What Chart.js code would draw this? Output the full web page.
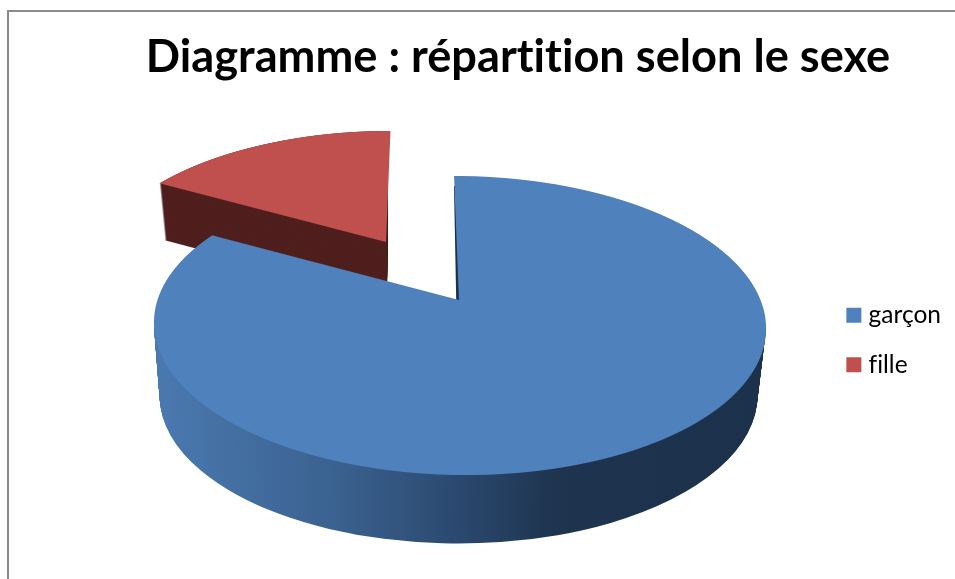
<!DOCTYPE html>
<html><head><meta charset="utf-8">
<script src="https://cdn.jsdelivr.net/npm/chart.js@4/dist/chart.umd.min.js"></script>
<style>
html,body{margin:0;padding:0;background:#fff;overflow:hidden}
#wrap{position:relative;width:955px;height:579px}
#frame{position:absolute;left:7px;top:10px;right:0;bottom:0;border-top:2px solid #8a8a8a;border-left:2px solid #8a8a8a;box-sizing:border-box}
canvas{position:absolute;left:0;top:0}
</style></head>
<body><div id="wrap"><div id="frame"></div><canvas id="c" width="955" height="579"></canvas></div>
<script>
const titleText = 'Diagramme : répartition selon le sexe';
const categories = ['garçon', 'fille'];
const values = [83, 17];
const colors = ['#4f81bd', '#c0504d'];

function view(arc, color) {
  const v = Object.create(arc);
  v.options = {backgroundColor: color, borderColor: 'transparent', borderWidth: 0, offset: 0, spacing: 0,
    borderRadius: 0, borderAlign: 'center', circular: true, borderJoinStyle: 'round', borderDash: [], borderDashOffset: 0};
  return v;
}
// perspective surface: each pixel row gets its own affine map of the library's arc
function surface(ctx, arc, color, h, lo, hi, xMin, xMax) {
  const R = arc.outerRadius, v = view(arc, color);
  for (let py = lo; py <= hi; py++) {
    const dy = py + .5 - h.ay;
    const y = dy / (h.A - h.k * dy), den = 1 + h.k * y;
    if (Math.abs(y) > 1.02) continue;
    const s = h.B / den / R, vs = h.A / (den * den) / R;
    ctx.save();
    ctx.beginPath();
    ctx.rect(xMin, py, xMax - xMin, 1);
    ctx.clip();
    ctx.setTransform(s, 0, 0, vs, h.ax + h.shear * dy - s * arc.x, py + .5 - vs * (arc.y + y * R));
    v.draw(ctx);
    ctx.restore();
  }
}
const pie3d = {
  id: 'pie3d',
  beforeDraw(chart) {
    chart.ctx.textRendering = 'optimizeSpeed';
  },
  beforeDatasetDraw(chart, args) {
    const ctx = chart.ctx, W = chart.width, H = chart.height;
    const blue = args.meta.data[0], red = args.meta.data[1];
    const R = blue.outerRadius;
    // detached slice
    const rh = {ax: 386, ay: 242, A: 133.9, B: 287, k: -.206, shear: -.04};
    for (let i = 57; i >= 0; i--) {
      const t = i / 57;
      const l = {...rh, ax: rh.ax + .5 * t, ay: rh.ay + 57 * t, B: rh.B * (1 - .022 * t)};
      surface(ctx, red, '#4f1f1e', l, Math.floor(l.ay - 113), Math.ceil(l.ay + 2), 0, 387.5);
    }
    surface(ctx, red, colors[1], rh, 128, 244, 0, W);
    // main wall
    const x0 = blue.x, sx = R / 306, cxTop = 460;
    const g = ctx.createLinearGradient(x0 + (154 - cxTop) * sx, 0, x0 + (766 - cxTop) * sx, 0);
    g.addColorStop(0, '#4a79b0');
    g.addColorStop(.29, '#3b6290');
    g.addColorStop(.48, '#2c4b72');
    g.addColorStop(.66, '#1e344f');
    g.addColorStop(1, '#1c314b');
    const wall = view(blue, g);
    ctx.save();
    ctx.beginPath();
    ctx.rect(0, 326, W, H - 326);
    ctx.clip();
    for (let i = 70; i >= 0; i--) {
      const t = i / 70;
      ctx.save();
      ctx.translate(cxTop - 1.5 * t, 325.5 + 70 * t);
      ctx.scale((306 - 7 * t) / R, (150 - 2 * t) / R);
      ctx.translate(-blue.x, -blue.y);
      wall.draw(ctx);
      ctx.restore();
    }
    ctx.restore();
    // inner edge of the notch, then top surface
    const bh = {ax: 459, ay: 300, A: 145.2, B: 301.5, k: -.1706, shear: .04};
    surface(ctx, blue, '#1c314b', {...bh, ax: 456.2, shear: .0195}, 186, 300, 440, 480);
    surface(ctx, blue, colors[0], bh, 172, 480, 0, W);
    return false;
  }
};
new Chart(document.getElementById('c'), {
  type: 'pie',
  data: {labels: categories, datasets: [{data: values, backgroundColor: colors, borderWidth: 0}]},
  plugins: [pie3d],
  options: {
    responsive: false, animation: false, events: [],
    layout: {padding: {left: 85, right: 4, top: 0, bottom: 0}},
    plugins: {
      title: {display: true, text: titleText, color: '#000', padding: {top: 30, bottom: 17},
        font: {family: 'Lato', size: 45.2, weight: 'bold'}},
      legend: {position: 'right', align: 'center', fullSize: false,
        labels: {color: '#000', usePointStyle: true, pointStyle: 'rect', boxWidth: 5, boxHeight: 15, padding: 25,
          font: {family: 'Lato', size: 24.5}}},
      tooltip: {enabled: false}
    }
  }
});
</script></body></html>
